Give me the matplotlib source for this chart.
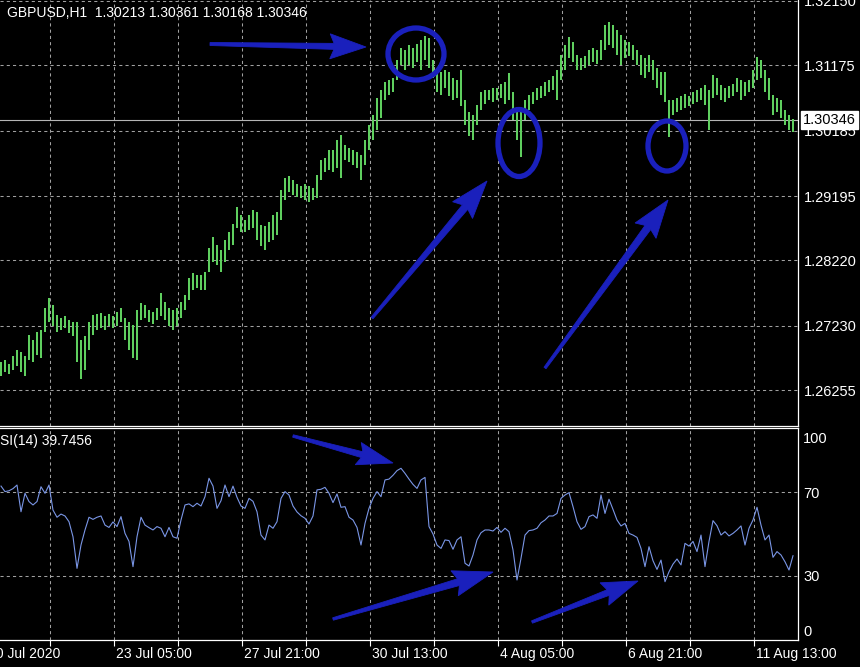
import matplotlib
matplotlib.use("Agg")
import matplotlib.pyplot as plt
from matplotlib.patches import Polygon, Ellipse
import matplotlib.transforms as mtransforms
import numpy as np

plt.rcParams['font.family'] = ['Liberation Sans', 'DejaVu Sans']

# ---------------- data ----------------
symbol = "GBPUSD,H1"
last_ohlc = [1.30213, 1.30361, 1.30168, 1.30346]
rsi_name = "RSI(14)"
rsi_last = 39.7456

highs = [
    1.2668, 1.2671, 1.2665, 1.2677, 1.2686, 1.2683, 1.2677, 1.2709, 1.2701, 1.2713,
    1.2717, 1.2750, 1.2765, 1.2754, 1.2739, 1.2735, 1.2738, 1.2732, 1.2729, 1.2729,
    1.2701, 1.2707, 1.2729, 1.2739, 1.2741, 1.2742, 1.2738, 1.2741, 1.2738, 1.2744,
    1.2750, 1.2735, 1.2729, 1.2724, 1.2747, 1.2757, 1.2754, 1.2747, 1.2744, 1.2750,
    1.2773, 1.2759, 1.2750, 1.2747, 1.2750, 1.2759, 1.2770, 1.2795, 1.2803, 1.2800,
    1.2800, 1.2804, 1.2841, 1.2858, 1.2846, 1.2838, 1.2853, 1.2865, 1.2877, 1.2903,
    1.2891, 1.2883, 1.2891, 1.2898, 1.2895, 1.2876, 1.2874, 1.2880, 1.2891, 1.2895,
    1.2929, 1.2947, 1.2950, 1.2944, 1.2938, 1.2935, 1.2938, 1.2935, 1.2932, 1.2951,
    1.2974, 1.2977, 1.2989, 1.2989, 1.3004, 1.3012, 1.2997, 1.2992, 1.2989, 1.2986,
    1.2982, 1.3004, 1.3027, 1.3042, 1.3068, 1.3080, 1.3092, 1.3095, 1.3098, 1.3126,
    1.3144, 1.3141, 1.3148, 1.3144, 1.3150, 1.3156, 1.3162, 1.3159, 1.3126, 1.3110,
    1.3107, 1.3110, 1.3107, 1.3098, 1.3095, 1.3110, 1.3065, 1.3047, 1.3042, 1.3057,
    1.3077, 1.3080, 1.3080, 1.3083, 1.3083, 1.3089, 1.3092, 1.3106, 1.3077, 1.3050,
    1.3053, 1.3065, 1.3073, 1.3077, 1.3083, 1.3086, 1.3092, 1.3095, 1.3101, 1.3110,
    1.3133, 1.3148, 1.3160, 1.3153, 1.3133, 1.3129, 1.3132, 1.3141, 1.3144, 1.3141,
    1.3156, 1.3179, 1.3183, 1.3179, 1.3171, 1.3163, 1.3156, 1.3153, 1.3148, 1.3141,
    1.3133, 1.3129, 1.3133, 1.3126, 1.3113, 1.3107, 1.3107, 1.3065, 1.3065, 1.3068,
    1.3071, 1.3074, 1.3071, 1.3077, 1.3080, 1.3083, 1.3088, 1.3080, 1.3103, 1.3098,
    1.3088, 1.3083, 1.3086, 1.3089, 1.3098, 1.3095, 1.3092, 1.3095, 1.3110, 1.3130,
    1.3126, 1.3110, 1.3098, 1.3073, 1.3068, 1.3065, 1.3050, 1.3042, 1.30361,
]

lows = [
    1.2647, 1.2653, 1.2650, 1.2656, 1.2662, 1.2653, 1.2647, 1.2671, 1.2668, 1.2679,
    1.2674, 1.2713, 1.2729, 1.2723, 1.2713, 1.2717, 1.2720, 1.2712, 1.2707, 1.2668,
    1.2642, 1.2656, 1.2686, 1.2709, 1.2717, 1.2720, 1.2717, 1.2723, 1.2720, 1.2723,
    1.2729, 1.2701, 1.2686, 1.2674, 1.2671, 1.2732, 1.2735, 1.2729, 1.2726, 1.2732,
    1.2738, 1.2732, 1.2723, 1.2717, 1.2723, 1.2735, 1.2747, 1.2762, 1.2777, 1.2780,
    1.2777, 1.2777, 1.2804, 1.2819, 1.2815, 1.2804, 1.2819, 1.2838, 1.2846, 1.2871,
    1.2865, 1.2865, 1.2868, 1.2871, 1.2853, 1.2844, 1.2838, 1.2850, 1.2853, 1.2860,
    1.2883, 1.2914, 1.2926, 1.2921, 1.2918, 1.2917, 1.2914, 1.2910, 1.2914, 1.2917,
    1.2944, 1.2956, 1.2959, 1.2956, 1.2962, 1.2947, 1.2974, 1.2971, 1.2967, 1.2962,
    1.2944, 1.2967, 1.2989, 1.3004, 1.3020, 1.3038, 1.3065, 1.3073, 1.3077, 1.3095,
    1.3118, 1.3110, 1.3118, 1.3113, 1.3123, 1.3110, 1.3126, 1.3113, 1.3098, 1.3077,
    1.3073, 1.3083, 1.3071, 1.3065, 1.3068, 1.3056, 1.3027, 1.3010, 1.3004, 1.3027,
    1.3050, 1.3059, 1.3065, 1.3062, 1.3065, 1.3068, 1.3059, 1.3065, 1.3035, 1.3004,
    1.2979, 1.3035, 1.3050, 1.3059, 1.3065, 1.3068, 1.3071, 1.3077, 1.3080, 1.3065,
    1.3095, 1.3110, 1.3129, 1.3123, 1.3110, 1.3110, 1.3113, 1.3118, 1.3123, 1.3120,
    1.3126, 1.3141, 1.3148, 1.3144, 1.3133, 1.3118, 1.3129, 1.3132, 1.3126, 1.3118,
    1.3103, 1.3098, 1.3107, 1.3095, 1.3083, 1.3073, 1.3062, 1.3009, 1.3042, 1.3047,
    1.3050, 1.3053, 1.3056, 1.3059, 1.3062, 1.3065, 1.3057, 1.3020, 1.3068, 1.3073,
    1.3065, 1.3062, 1.3068, 1.3071, 1.3077, 1.3065, 1.3071, 1.3077, 1.3083, 1.3095,
    1.3098, 1.3077, 1.3065, 1.3042, 1.3047, 1.3038, 1.3027, 1.3020, 1.30168,
]

rsi = [
    72.6, 70.0, 70.4, 71.4, 73.1, 60.5, 69.2, 65.3, 63.7, 65.3,
    72.3, 69.2, 73.1, 61.3, 57.9, 59.4, 58.5, 55.8, 48.7, 33.8,
    44.8, 51.9, 57.9, 56.9, 57.9, 58.5, 54.2, 53.1, 55.7, 53.5,
    58.2, 50.3, 46.5, 34.6, 48.7, 57.9, 54.2, 53.0, 51.9, 53.5,
    52.7, 48.7, 53.1, 48.7, 48.0, 56.6, 63.7, 64.2, 62.9, 64.5,
    63.2, 67.6, 76.3, 72.6, 62.1, 65.7, 73.1, 67.6, 72.6, 67.3,
    63.2, 62.1, 66.8, 65.4, 60.5, 49.5, 47.2, 54.2, 52.7, 55.8,
    66.8, 70.0, 68.4, 63.2, 60.4, 58.6, 57.4, 54.7, 58.5, 70.8,
    71.1, 72.0, 69.2, 64.8, 68.9, 62.6, 62.9, 57.9, 56.6, 53.1,
    44.8, 55.0, 62.1, 66.8, 70.0, 67.6, 75.5, 75.9, 77.7, 79.9,
    81.0, 78.6, 75.9, 73.4, 71.5, 75.5, 76.7, 53.5, 50.0, 44.8,
    43.2, 47.2, 46.9, 42.8, 47.2, 48.7, 36.2, 34.9, 40.1, 47.2,
    50.6, 51.9, 51.9, 51.4, 53.1, 50.8, 52.7, 51.1, 42.5, 28.3,
    38.5, 49.5, 51.6, 51.9, 52.7, 55.3, 56.6, 58.5, 58.5, 59.7,
    66.8, 68.4, 69.5, 62.9, 55.8, 52.2, 53.5, 58.2, 59.0, 57.4,
    68.4, 59.7, 66.4, 61.6, 56.6, 53.8, 55.0, 50.3, 49.5, 48.4,
    43.2, 34.6, 44.0, 37.4, 33.3, 37.7, 27.5, 32.2, 35.8, 38.2,
    35.4, 45.6, 44.3, 46.5, 41.7, 49.5, 34.6, 46.5, 56.3, 53.9,
    49.5, 51.1, 49.1, 50.3, 51.9, 53.8, 44.8, 52.7, 56.6, 62.6,
    54.2, 47.2, 49.5, 39.0, 41.7, 40.1, 36.9, 33.0, 39.7456,
]

price_labels = ["1.32150", "1.31175", "1.30185", "1.29195", "1.28220", "1.27230", "1.26255"]
rsi_levels = [70, 30]
rsi_scale_labels = ["100", "70", "30", "0"]
time_labels = ["20 Jul 2020", "23 Jul 05:00", "27 Jul 21:00", "30 Jul 13:00",
               "4 Aug 05:00", "6 Aug 21:00", "11 Aug 13:00"]

# ---------------- layout / style ----------------
W, H = 860, 667
BG = 'black'
GREEN = '#5fcf5f'
RSI_COL = '#7a96e6'
GRID = '#a0a0a0'
FG = 'white'
ANNO = '#1a20bc'

fig = plt.figure(figsize=(W / 100, H / 100), dpi=100, facecolor=BG)
ax = fig.add_axes([0, 241 / H, 798 / W, 426 / H], facecolor=BG)
ax2 = fig.add_axes([0, 27 / H, 798 / W, 212 / H], facecolor=BG)

n = len(highs)
x = np.arange(n)
grid_x = np.arange(12.25, n, 16)
label_x = np.arange(-3.75, n, 32)

px_per_price = 1 / 0.0001515
y_top = float(price_labels[0]) + 1 / px_per_price
y_bot = y_top - 426 / px_per_price

# ---- price panel ----
ax.vlines(x, lows, highs, colors=GREEN, linewidth=1.45, zorder=3)
ax.axhline(last_ohlc[3], color='#b4b4b4', linewidth=0.8, zorder=2)
ax.set_xlim(-0.25, n + 0.25)
ax.set_ylim(y_bot, y_top)
ax.set_xticks(grid_x)
ax.set_yticks([float(v) for v in price_labels], price_labels)
ax.yaxis.tick_right()
ax.tick_params(axis='y', length=0, pad=4, labelcolor=FG, labelsize=10.5)
ax.tick_params(axis='x', length=0, labelbottom=False)
ax.grid(True, color=GRID, linestyle=(0, (3, 3)), linewidth=0.75, zorder=1)
for s in ['left', 'top']:
    ax.spines[s].set_visible(False)
for s in ['right', 'bottom']:
    ax.spines[s].set_color(FG)
    ax.spines[s].set_linewidth(0.9)

ax.text(7 / 798, 1 - 13 / 426,
        f"{symbol}  " + " ".join(f"{v:.5f}" for v in last_ohlc),
        transform=ax.transAxes, color=FG, fontsize=10, va='center', ha='left', zorder=6)

# current price label box
trans_r = mtransforms.blended_transform_factory(ax.transAxes, ax.transData)
ax.text(1.0 + 5 / 798, last_ohlc[3], f"{last_ohlc[3]:.5f}", transform=trans_r,
        color='black', fontsize=10.5, va='center', ha='left', clip_on=False, zorder=10,
        bbox=dict(boxstyle='square,pad=0.12', facecolor='white', edgecolor='white'))

# ---- RSI panel ----
ax2.plot(x, rsi, color=RSI_COL, linewidth=0.8, zorder=3)
ax2.set_xlim(-0.25, n + 0.25)
ax2.set_ylim(0, 100)
ax2.set_xticks(grid_x)
ax2.set_yticks(rsi_levels)
ax2.tick_params(axis='y', length=0, labelleft=False, labelright=False)
ax2.tick_params(axis='x', length=4, width=0.8, color=FG, direction='out', labelbottom=False)
ax2.grid(True, color=GRID, linestyle=(0, (3, 3)), linewidth=0.75, zorder=1)
ax2.spines['left'].set_visible(False)
for s in ['right', 'bottom', 'top']:
    ax2.spines[s].set_color(FG)
    ax2.spines[s].set_linewidth(0.9)

trans_r2 = mtransforms.blended_transform_factory(ax2.transAxes, ax2.transData)
for lab, yv in zip(rsi_scale_labels, [94.8, 69.0, 29.6, 3.8]):
    ax2.text(1.0 + 5 / 798, yv, lab, transform=trans_r2, color=FG,
             fontsize=10.5, va='center', ha='left', clip_on=False)

ax2.text(-10.5 / 798, 1 - 13 / 212, f"{rsi_name} {rsi_last:.4f}", transform=ax2.transAxes,
         color=FG, fontsize=10, va='center', ha='left', clip_on=False)

# time labels below the RSI panel
trans_b = mtransforms.blended_transform_factory(ax2.transData, ax2.transAxes)
for xv, lab in zip(label_x, time_labels):
    ax2.text(xv + 0.5, -14 / 212, lab, transform=trans_b, color=FG, fontsize=10,
             va='center', ha='left', clip_on=False)

# ---------------- hand-drawn annotations ----------------
def fxy(px, py):
    return (px / W, 1 - py / H)

def tapered_arrow(x0, y0, x1, y1, tail_w, body_w, head_w, head_len):
    d = np.array([x1 - x0, y1 - y0], float)
    d /= np.hypot(*d)
    nn = np.array([-d[1], d[0]])
    tail = np.array([x0, y0], float)
    tip = np.array([x1, y1], float)
    base = tip - d * head_len
    pts = [tail + nn * tail_w / 2, base + nn * body_w / 2, base + nn * head_w / 2 - d * 4,
           tip, base - nn * head_w / 2 - d * 4, base - nn * body_w / 2, tail - nn * tail_w / 2]
    fig.add_artist(Polygon([fxy(*p) for p in pts], closed=True, transform=fig.transFigure,
                           facecolor=ANNO, edgecolor=ANNO, linewidth=0.6, zorder=20))

arrows = [
    (210, 44, 366, 47, 3, 6, 25, 32),
    (372, 318, 487, 181, 2.5, 7, 26, 34),
    (545, 368, 668, 200, 2.5, 7, 26, 34),
    (293, 436, 393, 463, 2.5, 6, 23, 32),
    (333, 619, 493, 572, 2.5, 7, 26, 36),
    (532, 622, 638, 581, 2.5, 6, 24, 32),
]
for a in arrows:
    tapered_arrow(*a)

circles = [(416, 54, 56, 52), (519, 143, 42, 67), (667, 146, 38, 50)]
for cx, cy, w, h in circles:
    fig.add_artist(Ellipse(fxy(cx, cy), w / W, h / H, transform=fig.transFigure, fill=False,
                           edgecolor=ANNO, linewidth=3.8, zorder=21))

fig.savefig("out.png", dpi=100, facecolor=BG)
